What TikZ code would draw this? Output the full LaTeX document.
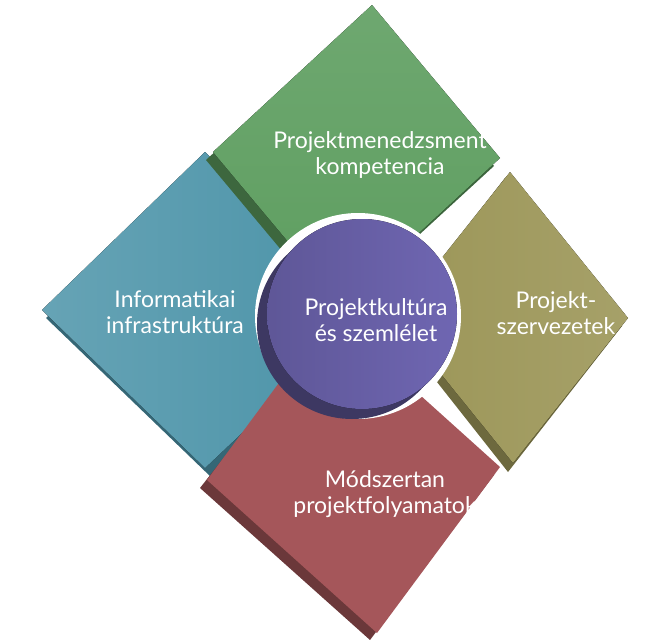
\documentclass[tikz,border=0pt]{standalone}
\usepackage{fontspec}
\setmainfont{Lato}
\begin{document}
\begin{tikzpicture}[x=1pt,y=-1pt,
  lbl/.style={text=white,align=center,font=\fontsize{23}{26}\selectfont}]
\useasboundingbox (0,0) rectangle (654,640);
\definecolor{gr}{HTML}{5E9E60}\definecolor{bl}{HTML}{4B93A8}
\definecolor{ol}{HTML}{9C9658}\definecolor{rd}{HTML}{A5565A}
\definecolor{pu}{HTML}{6F66B2}
% blue left
\fill[bl!70!black] (210,160)--(46,318)--(212,478)--(380,320)--cycle;
\fill[left color=bl!85!white,right color=bl] (205,152)--(42,310)--(205,468)--(370,312)--cycle;
% olive right
\fill[ol!70!black] (505,178)--(622,326)--(508,472)--(392,325)--cycle;
\fill[left color=ol,right color=ol!90!white] (510,172)--(628,318)--(513,463)--(395,317)--cycle;
% red bottom
\fill[rd!65!black] (200,488)--(330,322)--(494,475)--(370,640)--cycle;
\fill[rd] (207,480)--(330,314)--(500,467)--(377,633)--cycle;
% green top
\fill[gr!65!black] (206,160)--(366,13)--(494,166)--(334,313)--cycle;
\fill[top color=gr!90!white,bottom color=gr] (213,152)--(372,5)--(500,158)--(341,305)--cycle;
% cylinder
\fill[white] (358,316) circle (103);
\fill[pu!55!black] (352,324) circle (95);
\fill[left color=pu!85!black,right color=pu] (362,314) circle (95);
% labels
\node[lbl] (g) at (380,155) {Projektmenedzsment\\kompetencia};
\node[lbl] (b) at (175,312) {Informatikai\\infrastruktúra};
\node[lbl] (o) at (556,313) {Projekt-\\szervezetek};
\node[lbl] (r) at (385,494) {Módszertan\\projektfolyamatok};
\node[lbl] (c) at (376,320) {Projektkultúra\\és szemlélet};
\end{tikzpicture}
\end{document}
